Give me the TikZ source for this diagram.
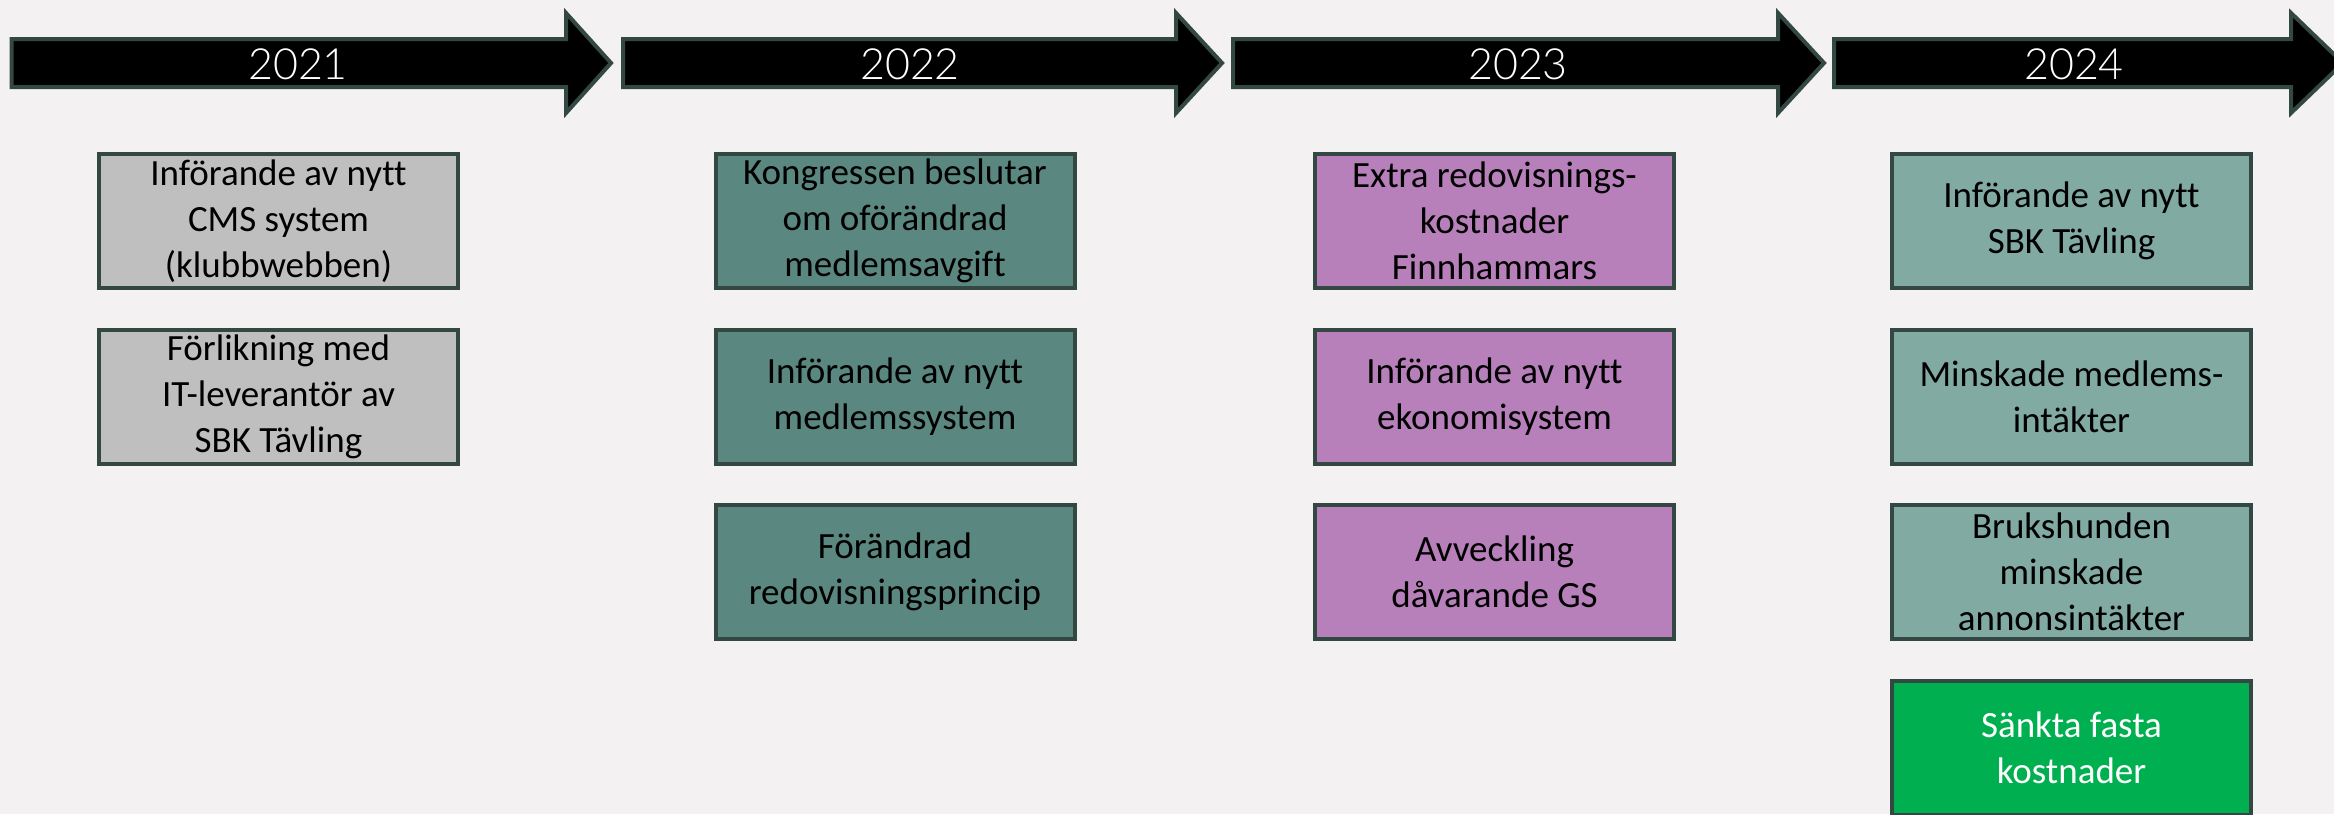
\documentclass[tikz,border=0pt]{standalone}
\usepackage{fontspec}
\setmainfont{Carlito}[Ligatures=NoCommon]
\newfontfamily\yearfont{Lato Light}
\definecolor{bgc}{HTML}{F3F1F2}
\definecolor{edgec}{HTML}{334743}
\definecolor{grayc}{HTML}{BFBFBF}
\definecolor{tealc}{HTML}{5A877F}
\definecolor{purplec}{HTML}{B780BA}
\definecolor{lightc}{HTML}{80AAA2}
\definecolor{greenc}{HTML}{00B050}
\newcommand\tlarrow[3]{%
  \draw[arrowshape] (#1,39) -- (#2,39) -- (#2,13) -- (#3,63) -- (#2,113) -- (#2,87) -- (#1,87) -- cycle;}
\begin{document}
\begin{tikzpicture}[x=0.5pt,y=-0.5pt,
  arrowshape/.style={fill=black,draw=edgec,line width=2pt,line join=miter},
  yeartext/.style={text=white,font=\yearfont\fontsize{21.5pt}{26pt}\selectfont,inner sep=0pt},
  evbox/.style={draw=edgec,line width=2pt,minimum width=179.5pt,minimum height=67pt,
    inner sep=0pt,align=center,font=\fontsize{18.5pt}{23pt}\selectfont},
  c1box/.style={evbox,fill=grayc},
  c2box/.style={evbox,fill=tealc},
  c3box/.style={evbox,fill=purplec},
  c4box/.style={evbox,fill=lightc},
  c5box/.style={evbox,fill=greenc,text=white}]
\useasboundingbox[fill=bgc] (0,0) rectangle (2334,814);
% timeline arrows
\tlarrow{11.5}{566}{611}
\tlarrow{623}{1176}{1222}
\tlarrow{1233}{1778}{1824}
\tlarrow{1834}{2291}{2343}
\node[yeartext] (y2021) at (298,64) {2021};
\node[yeartext] (y2022) at (910,64) {2022};
\node[yeartext] (y2023) at (1518,64) {2023};
\node[yeartext] (y2024) at (2074,64) {2024};
% 2021
\node[c1box] (a1) at (278.5,221) {Införande av nytt\\CMS system\\(klubbwebben)};
\node[c1box] (a2) at (278.5,396.5) {Förlikning med\\IT-leverantör av\\SBK Tävling};
% 2022
\node[c2box] (b1) at (895,221) {Kongressen beslutar\\om oförändrad\\medlemsavgift};
\node[c2box] (b2) at (895,396.5) {Införande av nytt\\medlemssystem};
\node[c2box] (b3) at (895,571.5) {Förändrad\\redovisningsprincip};
% 2023
\node[c3box] (c1) at (1494.5,221) {Extra redovisnings-\\kostnader\\Finnhammars};
\node[c3box] (c2) at (1494.5,396.5) {Införande av nytt\\ekonomisystem};
\node[c3box] (c3) at (1494.5,571.5) {Avveckling\\dåvarande GS};
% 2024
\node[c4box] (d1) at (2071.5,221) {Införande av nytt\\SBK Tävling};
\node[c4box] (d2) at (2071.5,396.5) {Minskade medlems-\\intäkter};
\node[c4box] (d3) at (2071.5,571.5) {Brukshunden\\minskade\\annonsintäkter};
\node[c5box] (d4) at (2071.5,748) {Sänkta fasta\\kostnader};
\end{tikzpicture}
\end{document}
